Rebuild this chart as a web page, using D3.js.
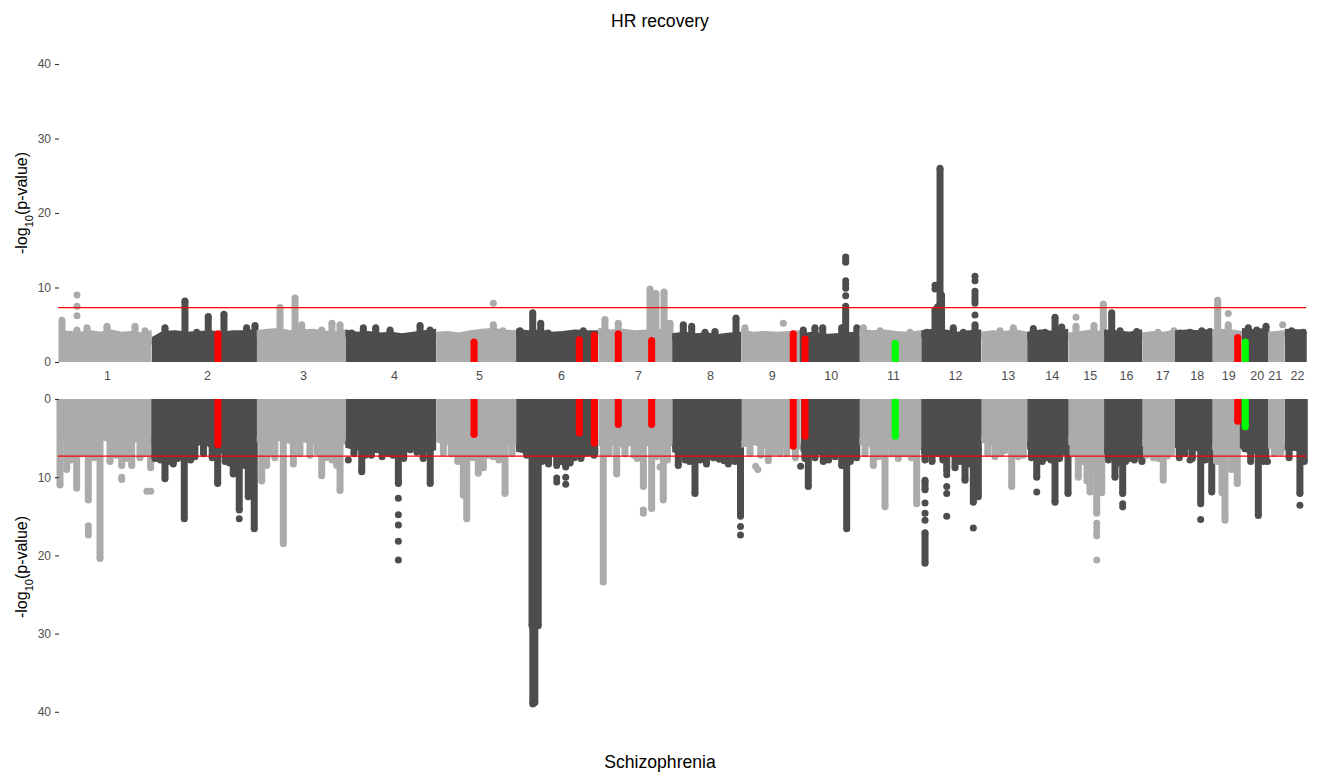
<!DOCTYPE html>
<html><head><meta charset="utf-8">
<script src="https://cdn.jsdelivr.net/npm/d3@7"></script>
<style>
body{margin:0;background:#fff;}
text{font-family:"Liberation Sans", Arial, Helvetica, sans-serif;}
</style>
</head><body>
<svg id="chart" width="1320" height="775"></svg>
<script>
// ---------------- data ----------------
const chromosomes = ["1","2","3","4","5","6","7","8","9","10","11","12","13","14","15","16","17","18","19","20","21","22"];
const chrLen = [212,243,205,210,185,190,171,160,137,136,143,139,106,95,83,88,76,86,69,60,39,49];
const chrTick = [108.7,127.9,107.1,112.6,99.2,103.9,91.8,87.4,70.1,69.6,77.7,78.2,61.1,56.9,49.7,50.7,46.5,50.2,37.2,34,15.5,28];
const yTicks = [0,10,20,30,40];
const threshold = 7.3;

// dense band (binned maximum, evenly spaced along each chromosome)
const topBase = [
 [3.8,3.7,3.6,3.8,3.6,3.9,3.6,3.7,3.5,3.8],
 [2.8,3.7,3.8,3.6,3.7,3.8,3.6,3.8,3.8,4.0],
 [3.8,4.0,4.1,3.8,3.9,4.0,3.8,3.6,3.9],
 [3.9,3.6,3.7,3.5,3.6,3.4,3.6,3.8,4.0],
 [3.6,3.7,3.5,3.8,4.0,4.1,3.9,3.8],
 [4.0,3.8,3.9,3.6,3.7,3.9,3.8,3.8],
 [4.1,3.9,4.0,3.8,3.9,4.0,3.8],
 [3.4,3.6,3.4,3.5,3.3,3.5,3.6],
 [3.9,3.6,3.7,3.6,3.7,3.8],
 [3.4,3.6,3.3,3.4,3.5,3.7],
 [4.0,3.8,3.9,3.7,3.6,3.8],
 [3.8,4.0,3.9,3.6,3.8,3.9],
 [3.6,3.8,3.7,3.9,3.6],
 [3.6,3.9,3.7,4.0],
 [3.5,3.7,3.9,3.6],
 [3.9,3.8,3.6,3.9],
 [3.5,3.7,3.6,3.9],
 [3.8,3.9,3.8,4.0],
 [3.9,4.0,3.7],
 [4.1,3.9,4.2],
 [3.6,3.8],
 [4.0,3.9]
];
const botBase = [
 [4.8,4.6,4.9,4.6,4.8,5.1,4.9,5.2,5.0,5.6],
 [5.3,6.3,6.6,5.9,5.2,6.4,6.8,7.0,6.4],
 [5.1,5.2,4.9,5.3,5.0,5.4,5.1,5.2,5.4],
 [5.8,6.1,6.3,5.9,6.0,6.2,5.9,6.3,6.1],
 [5.1,5.4,5.2,5.6,5.2,5.8,5.5,5.6],
 [6.3,6.6,6.4,7.0,6.8,7.1,6.9,6.7],
 [5.6,5.4,5.8,5.4,5.6,5.8,5.6],
 [6.3,6.8,7.0,6.8,7.0,6.8,7.0],
 [5.8,5.4,5.9,5.6,5.8,6.0],
 [6.3,6.6,6.8,6.4,6.7,6.8],
 [5.4,5.8,5.6,5.9,5.8,6.1],
 [6.6,6.8,7.0,6.8,6.6,6.8],
 [5.1,5.6,5.4,5.8,5.6],
 [6.0,6.3,6.5,6.3],
 [5.4,5.6,5.9,5.8],
 [6.6,6.8,6.8,6.6],
 [5.6,5.9,5.8,6.1],
 [5.8,6.0,6.3,6.2],
 [6.1,6.4,6.1],
 [6.3,6.6,6.8],
 [5.9,6.1],
 [6.1,6.3]
];

// stacked columns of points: [chromosome, position (Mb), top value, optional start value]
const topCols = [
 [1,4.6,5.6],[1,39.3,4.3],[1,62.5,4.6],[1,108.7,4.8],[1,173.5,4.8],[1,196.6,4.2],
 [2,30.8,4.6],[2,77.0,8.2],[2,104.1,4.0],[2,130.9,6.1],[2,167.2,6.4],[2,219.7,4.6],[2,239,4.9],
 [3,53.9,7.3],[3,88.6,8.6],[3,104.1,5.0],[3,150.3,4.3],[3,174,5.2],[3,192.7,5.0],
 [4,14.8,3.9],[4,41.6,4.6],[4,70.3,4.6],[4,103.4,4.3],[4,172.8,4.9],[4,195.9,4.3],
 [5,43.7,3.6],[5,132.3,5.0],[5,154.7,4.2],
 [6,9.0,4.2],[6,38.4,6.6],[6,56.9,5.2],[6,73.8,3.9],[6,155.4,4.2],
 [7,15.5,5.7],[7,46.3,5.2],[7,119.6,9.8],[7,133.5,9.2],[7,152.2,9.4],[7,166,5.2],
 [8,25.7,5.0],[8,45.1,4.8],[8,75.9,4.0],[8,99,4.1],[8,147.6,5.9],
 [9,8.3,4.6],
 [10,6.2,4.3],[10,33.3,4.6],[10,51.1,4.6],[10,95.1,4.6],[10,104.3,7.5],[10,130.2,4.6],
 [11,9.0,4.6],[11,47.6,4.2],[11,117,4.0],
 [12,12.7,4.0],[12,31.9,7.0],[12,38,7.4],[12,43.5,26.0],[12,47,9.0],[12,74.2,4.6],[12,97.4,4.0],[12,124.4,5.0],
 [13,43.3,4.2],[13,74,4.6],
 [14,14.3,4.5],[14,41.4,4.0],[14,64.5,6.0],[14,80,4.7],
 [15,18,4.8],[15,59.7,4.9],[15,81.2,7.8],
 [16,17.6,6.6],[16,36.8,4.2],[16,75.4,4.1],
 [17,36.5,4.0],[17,74,4.2],
 [18,11.6,3.9],[18,34.7,4.0],[18,61.8,4.2],[18,81,4.1],
 [19,12.7,8.3],[19,37.2,5.0],
 [20,14.6,4.6],[20,34,4.3],[20,55.5,4.8],
 [22,15.7,4.2],[22,42.6,4.0]
];
const topDots = [
 [1,39.3,9.0],[1,39.3,7.5],[1,39.3,6.2],
 [5,132.3,7.9],
 [9,96.9,5.2],
 [10,104.3,8.9],[10,104.3,9.9],[10,104.3,10.4],[10,104.3,10.9],[10,104.3,13.4],[10,104.3,13.8],[10,104.3,14.1],
 [12,31.9,9.8],[12,31.9,10.3],
 [12,124.4,6.3],[12,124.4,7.9],[12,124.4,8.3],[12,124.4,8.7],[12,124.4,9.1],[12,124.4,9.5],[12,124.4,10.9],[12,124.4,11.5],
 [15,18,6.0],
 [19,37.2,6.5],
 [21,34,5.0]
];
const botCols = [
 [1,0,11.0],[1,15.5,9.0],[1,25,7.8],[1,38.6,11.4],[1,50,7.0],[1,65.5,12.9],[1,80,7.5],[1,92.5,20.4],[1,115.7,8.0],[1,130,7.2],[1,142.7,8.5],[1,155,7.6],[1,165.8,8.5],[1,185,7.5],[1,195,7.0],[1,209.6,8.8],
 [2,7.6,7.6],[2,20,7.8],[2,30.8,10.2],[2,40,8.0],[2,50,8.3],[2,60,7.6],[2,75.4,15.3],[2,90,7.8],[2,100,7.4],[2,120,7.0],[2,140,7.5],[2,152.7,10.8],[2,170,8.0],[2,180,8.2],[2,188.7,9.6],[2,202.6,14.2],[2,215,8.5],[2,223.4,12.5],[2,230,8.0],[2,237.3,16.6],
 [3,11.6,10.5],[3,23.1,8.5],[3,30,6.8],[3,42,7.5],[3,61.5,18.5],[3,84.7,8.3],[3,100,7.0],[3,123,7.2],[3,140,6.8],[3,150.3,9.8],[3,160,7.5],[3,174.1,7.8],[3,185,8.5],[3,192.7,11.7],
 [4,20,7.0],[4,37.9,9.3],[4,45.6,7.2],[4,60,7.2],[4,72.6,6.5],[4,85,7.4],[4,99.5,7.0],[4,110,7.2],[4,122.6,10.8],[4,135,7.6],[4,150,6.5],[4,165.5,6.8],[4,180,7.6],[4,196.3,10.8],
 [5,16.7,6.9],[5,35,7.0],[5,50,8.0],[5,62.9,12.3],[5,70.8,15.3],[5,85,7.5],[5,97.6,9.5],[5,109.2,8.8],[5,120,7.2],[5,131.6,7.4],[5,145,7.8],[5,159.4,12.1],[5,175.6,7.0],
 [6,24.5,7.2],[6,36.8,29.0],[6,38.6,39.0],[6,43.3,38.8],[6,51.1,29.0],[6,60,8.0],[6,75,8.3],[6,93.9,8.5],[6,105,8.0],[6,114.7,8.7],[6,125,8.2],[6,135,7.5],[6,150,7.6],[6,166.3,6.8],[6,180,7.2],
 [7,11.6,23.4],[7,25,7.0],[7,42.6,9.6],[7,61.8,7.0],[7,82.6,7.2],[7,90,7.6],[7,104.3,11.2],[7,123.5,14.0],[7,135,7.4],[7,150.3,12.9],[7,160,7.8],
 [8,14.1,8.5],[8,30,7.8],[8,40,8.0],[8,52.7,12.1],[8,65,7.8],[8,79.3,8.3],[8,95,7.5],[8,108.9,7.7],[8,120,7.9],[8,129.8,8.3],[8,145,8.0],[8,158,15.0],
 [9,20,7.0],[9,45,7.2],[9,62.3,7.9],[9,75,6.8],[9,89,7.0],[9,105,7.0],[9,125,7.5],
 [10,10,7.6],[10,17.8,11.2],[10,33.3,7.5],[10,52.5,8.0],[10,65,7.8],[10,80,7.4],[10,95.1,8.5],[10,106.6,16.6],[10,115,8.0],[10,129.8,7.5],
 [11,13,7.0],[11,32.2,8.5],[11,45,7.4],[11,59.2,13.8],[11,75,7.0],[11,90,7.6],[11,105,7.0],[11,120,7.5],[11,132.5,13.4],
 [12,8.8,7.8],[12,8.8,11.6,10.4],[12,8.8,21.0,17.1],[12,25,8.0],[12,39.6,7.0],[12,50,7.8],[12,59.0,9.2],[12,78.2,8.8],[12,90,8.0],[12,101.3,10.4],[12,110,8.3],[12,120.5,13.2],[12,132.1,12.5],
 [13,15,7.0],[13,31.7,7.4],[13,45,7.0],[13,54.8,6.6],[13,70.3,11.2],[13,85,7.4],[13,97.1,7.2],
 [14,10,7.5],[14,22.2,10.0],[14,35,8.0],[14,43.7,7.5],[14,55,7.8],[14,64.5,13.2],[14,75,7.6],[14,87.7,6.8],[14,94.5,12.1],
 [15,11.1,7.0],[15,23.4,10.0],[15,35,8.0],[15,43.5,10.5],[15,50.4,11.9],[15,58,9.0],[15,65.9,14.6],[15,77.5,12.0],
 [16,10,7.8],[16,25.2,10.0],[16,35,8.2],[16,43,12.1],[16,50,8.0],[16,59.9,7.6],[16,70,7.8],[16,83,7.2],[16,87.5,8.0],
 [17,10,7.2],[17,25.7,7.5],[17,38,7.6],[17,48.8,10.4],[17,58,7.3],[17,68.2,6.8],
 [18,10,7.5],[18,23,7.0],[18,40,7.6],[18,59.4,13.4],[18,70,7.8],[18,85,11.9],
 [19,10,8.0],[19,22.7,12.0],[19,29.6,15.5],[19,45,9.0],[19,58,10.8],
 [20,3,6.0],[20,20,8.0],[20,37.7,14.9],[20,49.3,8.0],[20,55,7.6],
 [21,15,7.0],[21,30,6.8],
 [22,10,7.5],[22,34.9,12.1],[22,45,8.0]
];
const botDots = [
 [1,65.5,16.2],[1,65.5,16.6],[1,65.5,17.0],[1,65.5,17.4],[1,142.7,10.0],[1,142.7,10.3],[1,201,11.8],[1,210,11.8],
 [2,202.6,15.3],
 [4,6.9,7.8],[4,122.6,12.7],[4,122.6,14.8],[4,122.6,16.1],[4,122.6,18.2],[4,122.6,20.6],
 [6,93.9,10.1],[6,93.9,10.6],[6,114.7,10.0],[6,114.7,10.9],
 [7,104.3,14.2],[7,104.3,14.6],[7,142.7,8.7],
 [8,158,16.3],[8,158,17.4],
 [9,33,8.6],[9,38,9.0],
 [10,0,8.6],
 [12,8.8,13.3],[12,8.8,14.6],[12,8.8,15.5],
 [12,59.0,9.7],[12,59.0,11.2],[12,59.0,12.1],[12,59.0,15.0],
 [12,120.5,16.5],
 [14,22.2,11.9],
 [15,65.9,15.9],[15,65.9,16.4],[15,65.9,17.0],[15,65.9,17.5],[15,65.9,20.6],
 [16,43,13.4],[16,43,13.8],
 [18,34.7,7.8],[18,59.4,15.4],
 [20,59,8.0],
 [22,34.9,13.6]
];

// highlighted loci (same SNPs in both panels)
const hitChr   = [2,5,6,6,7,7,9,10,11,19,20];
const hitPos   = [153.3,87.7,146.2,180.9,46.3,123.5,120.0,10.2,83.0,59.0,7.6];
const hitTop   = [3.8,2.7,3.0,3.6,3.8,2.9,3.8,3.1,2.5,3.3,2.7];
const hitBot   = [5.85,4.55,4.35,5.65,3.25,3.25,6.05,4.75,4.75,2.85,3.55];
const hitColor = ["#FF0000","#FF0000","#FF0000","#FF0000","#FF0000","#FF0000","#FF0000","#FF0000","#00FF00","#FF0000","#00FF00"];

// ---------------- drawing ----------------
const light = "#ABABAB", dark = "#4D4D4D";
const R = 3.5;
const svg = d3.select("#chart");

const cumStart = [];
chrLen.reduce((acc, l, i) => { cumStart[i] = acc; return acc + l; }, 0);
const total = d3.sum(chrLen);
const x = d3.scaleLinear().domain([0, total]).range([60, 1306]);
const gx = (c, p) => x(cumStart[c - 1] + p);
const color = c => (c % 2 === 1 ? light : dark);

const yTop = d3.scaleLinear().domain([0, 40]).range([362, 64]);
const yBot = d3.scaleLinear().domain([0, 40]).range([399, 711.8]);

// clip paths so each chromosome's dense band keeps straight side edges
const defs = svg.append("defs");
chromosomes.forEach((n, i) => {
  defs.append("clipPath").attr("id", "clip" + i).append("rect")
    .attr("x", x(cumStart[i])).attr("width", x(cumStart[i] + chrLen[i]) - x(cumStart[i]))
    .attr("y", 0).attr("height", 775);
});

function drawPanel(g, y, base, cols, dots, hitVals) {
  chromosomes.forEach((name, i) => {
    const c = i + 1;
    const col = color(c);
    const vals = base[i];
    const pts = vals.map((v, k) => [cumStart[i] + chrLen[i] * k / (vals.length - 1), v]);
    const area = d3.area().x(d => x(d[0])).y0(y(0)).y1(d => y(d[1]));
    const line = d3.line().x(d => x(d[0])).y(d => y(d[1]));
    const gb = g.append("g").attr("clip-path", `url(#clip${i})`);
    gb.append("path").attr("d", area(pts)).attr("fill", col);
    gb.append("path").attr("d", line(pts)).attr("fill", "none").attr("stroke", col)
      .attr("stroke-width", 2 * R).attr("stroke-linejoin", "round").attr("stroke-linecap", "round");
    cols.filter(d => d[0] === c).forEach(d => {
      const cx = gx(d[0], d[1]);
      const s = d.length > 3 ? d[3] : 0;
      const ya = y(s), yb = y(d[2]);
      g.append("rect").attr("x", cx - R).attr("width", 2 * R)
        .attr("y", Math.min(ya, yb)).attr("height", Math.abs(yb - ya)).attr("fill", col);
      g.append("circle").attr("cx", cx).attr("cy", yb).attr("r", R).attr("fill", col);
      if (d.length > 3) g.append("circle").attr("cx", cx).attr("cy", ya).attr("r", R).attr("fill", col);
    });
    g.selectAll(null).data(dots.filter(d => d[0] === c)).enter().append("circle")
      .attr("cx", d => gx(d[0], d[1])).attr("cy", d => y(d[2])).attr("r", R).attr("fill", col);
  });
  // highlighted loci on top
  hitChr.forEach((c, i) => {
    const cx = gx(c, hitPos[i]);
    const ya = y(0), yb = y(hitVals[i]);
    g.append("rect").attr("x", cx - R).attr("width", 2 * R)
      .attr("y", Math.min(ya, yb)).attr("height", Math.abs(yb - ya)).attr("fill", hitColor[i]);
    g.append("circle").attr("cx", cx).attr("cy", yb).attr("r", R).attr("fill", hitColor[i]);
  });
  // genome-wide significance line
  g.append("line").attr("x1", 58).attr("x2", 1306).attr("y1", y(threshold)).attr("y2", y(threshold))
    .attr("stroke", "#FF0000").attr("stroke-width", 1.3);
  // y axis
  const ax = g.append("g").attr("transform", "translate(59,0)")
    .call(d3.axisLeft(y).tickValues(yTicks).tickSize(4).tickPadding(4));
  ax.select(".domain").remove();
  ax.selectAll(".tick line").attr("stroke", "#333333").attr("stroke-width", 1.1);
  ax.selectAll(".tick text").attr("fill", "#4D4D4D").style("font-size", "12px")
    .style("font-family", "'Liberation Sans', Arial, sans-serif");
}

const gTop = svg.append("g");
drawPanel(gTop, yTop, topBase, topCols, topDots, hitTop);
const gBot = svg.append("g");
drawPanel(gBot, yBot, botBase, botCols, botDots, hitBot);

// chromosome labels
const xa = svg.append("g").attr("transform", "translate(0,376)")
  .call(d3.axisBottom(x).tickValues(chrTick.map((t, i) => cumStart[i] + t))
    .tickFormat((d, i) => chromosomes[i]).tickSize(0).tickPadding(0));
xa.select(".domain").remove();
xa.selectAll(".tick text").attr("y", 0).attr("dy", "0.35em").attr("fill", "#4D4D4D")
  .style("font-size", "12.5px").style("font-family", "'Liberation Sans', Arial, sans-serif");

// titles
svg.append("text").attr("x", 660).attr("y", 21).attr("dy", "0.35em").attr("text-anchor", "middle")
  .style("font-size", "17.6px").attr("fill", "#000").text("HR recovery");
svg.append("text").attr("x", 660).attr("y", 762).attr("dy", "0.35em").attr("text-anchor", "middle")
  .style("font-size", "17.6px").attr("fill", "#000").text("Schizophrenia");

function yTitle(cy) {
  const t = svg.append("text").attr("transform", `translate(21,${cy}) rotate(-90)`)
    .attr("text-anchor", "middle").attr("dy", "0.35em").style("font-size", "16px").attr("fill", "#000");
  t.append("tspan").text("-log");
  t.append("tspan").attr("baseline-shift", "sub").style("font-size", "11px").text("10");
  t.append("tspan").text("(p-value)");
}
yTitle(203);
yTitle(567);
</script>
</body></html>
